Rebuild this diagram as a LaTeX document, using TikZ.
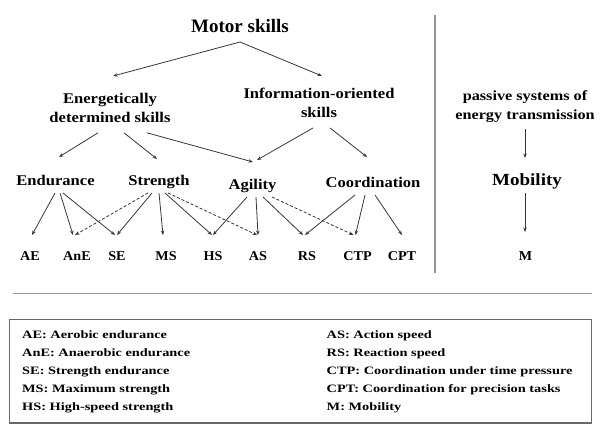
\documentclass[tikz,border=0pt]{standalone}
\usepackage{fontspec}
\setmainfont{Liberation Serif}
\newfontfamily\fmid{Liberation Serif}[FakeStretch=1.12]
\newfontfamily\flab{Liberation Serif}[FakeStretch=1.05]
\newfontfamily\fleg{Liberation Serif}[FakeStretch=1.27]
\newfontfamily\fpas{Liberation Serif}[FakeStretch=1.16]
\usetikzlibrary{arrows.meta,calc}
\definecolor{arrcol}{RGB}{55,55,55}
\definecolor{rulecol}{RGB}{150,150,150}
\definecolor{boxcol}{RGB}{105,105,105}
\tikzset{
  txt/.style={inner sep=0pt, text=black},
  topnode/.style={txt, anchor=base, font=\bfseries\fontsize{19}{22}\selectfont},
  midnode/.style={txt, anchor=base, font=\fmid\bfseries\fontsize{14.8}{19}\selectfont},
  twoline/.style={txt, anchor=north, align=center, font=\fmid\bfseries\fontsize{14.8}{19}\selectfont},
  pasnode/.style={txt, anchor=north, align=center, font=\fpas\bfseries\fontsize{14}{19}\selectfont},
  mobnode/.style={txt, anchor=base, font=\fmid\bfseries\fontsize{17}{20}\selectfont},
  labnode/.style={txt, anchor=base, font=\flab\bfseries\fontsize{13.5}{15}\selectfont},
  legnode/.style={txt, anchor=north west, align=left, font=\fleg\bfseries\fontsize{11.3}{18}\selectfont},
  arr/.style={draw=arrcol, line width=0.8pt, -{Stealth[length=4.5pt,width=3.5pt]}},
  darr/.style={arr, dash pattern=on 3pt off 2pt},
  rulebar/.style={draw=rulecol, line width=1.6pt},
  legbox/.style={draw=boxcol, line width=1.3pt}
}
\begin{document}
\begin{tikzpicture}[x=1pt,y=-1pt]
\useasboundingbox (0,0) rectangle (600,432);
% nodes
\node[topnode] (motor) at (240,32.5) {Motor skills};
\node[twoline] (ener) at (110,93) {Energetically\\determined skills};
\node[twoline] (info) at (319,88) {Information-oriented\\skills};
\node[midnode] (endu) at (55.5,185) {Endurance};
\node[midnode] (stre) at (159,185) {Strength};
\node[midnode] (agil) at (252.5,189) {Agility};
\node[midnode] (coor) at (373,187.5) {Coordination};
\node[labnode] (ae)  at (30,260) {AE};
\node[labnode] (ane) at (77,260) {AnE};
\node[labnode] (se)  at (117,260) {SE};
\node[labnode] (ms)  at (166,260) {MS};
\node[labnode] (hs)  at (213,260) {HS};
\node[labnode] (as)  at (258,260) {AS};
\node[labnode] (rs)  at (307,260) {RS};
\node[labnode] (ctp) at (357.5,260) {CTP};
\node[labnode] (cpt) at (402,260) {CPT};
\node[pasnode] (pas) at (525,90) {passive systems of\\energy transmission};
\node[mobnode] (mob) at (527,185.5) {Mobility};
\node[labnode] (m) at (525.5,260) {M};
% top level
\draw[arr] ($(motor.base)+(0,9.5)$) -- ($(ener.north)+(3,-17)$);
\draw[arr] ($(motor.base)+(0,9.5)$) -- ($(info.north)+(3,-12)$);
% second level
\draw[arr] ($(ener.south)+(-12,10)$) -- ($(endu.base)+(3.5,-28)$);
\draw[arr] ($(ener.south)+(14,10)$) -- ($(stre.base)+(-2,-26)$);
\draw[arr] ($(ener.south)+(37,10)$) -- ($(agil.base)+(0.5,-27)$);
\draw[arr] ($(info.south)+(-6,10)$) -- ($(agil.base)+(4.5,-29)$);
\draw[arr] ($(info.south)+(11,10)$) -- ($(coor.base)+(-6,-30.5)$);
% endurance
\draw[arr] ($(endu.base)+(-0.5,8)$) -- ($(ae.base)+(2,-25)$);
\draw[arr] ($(endu.base)+(4.5,8)$) -- ($(ane.base)+(-4,-25)$);
\draw[arr] ($(endu.base)+(7.5,8)$) -- ($(se.base)+(-2,-25)$);
% strength
\draw[darr] ($(stre.base)+(-11,8)$) -- ($(ane.base)+(-2,-25)$);
\draw[arr] ($(stre.base)+(-7,8)$) -- ($(se.base)+(0,-25)$);
\draw[arr] ($(stre.base)+(0,8)$) -- ($(ms.base)+(-3,-25)$);
\draw[arr] ($(stre.base)+(6,8)$) -- ($(hs.base)+(-1,-25)$);
\draw[darr] ($(stre.base)+(9,8)$) -- ($(as.base)+(-1,-25)$);
% agility
\draw[arr] ($(agil.base)+(-5.5,8)$) -- ($(hs.base)+(0,-25)$);
\draw[arr] ($(agil.base)+(3.5,8)$) -- ($(as.base)+(0,-25)$);
\draw[arr] ($(agil.base)+(10.5,8)$) -- ($(rs.base)+(-4,-25)$);
\draw[darr] ($(agil.base)+(19.5,8)$) -- ($(ctp.base)+(-4,-25)$);
% coordination
\draw[arr] ($(coor.base)+(-18,7.5)$) -- ($(rs.base)+(-2,-25)$);
\draw[arr] ($(coor.base)+(-8,7.5)$) -- ($(ctp.base)+(-2,-25)$);
\draw[arr] ($(coor.base)+(2,7.5)$) -- ($(cpt.base)+(0,-25)$);
% right part
\draw[arr] ($(pas.south)+(0,7)$) -- ($(mob.base)+(-2,-27.5)$);
\draw[arr] ($(mob.base)+(-2,7.5)$) -- ($(m.base)+(-0.5,-28)$);
% rules
\draw[rulebar] (435,15) -- (435,273);
\draw[rulebar] (12.5,293.5) -- (591.5,293.5);
% legend
\draw[legbox] (9.5,319.5) rectangle (591.5,423);
\node[legnode] (legl) at (22,330.3) {AE: Aerobic endurance\\AnE: Anaerobic endurance\\SE: Strength endurance\\MS: Maximum strength\\HS: High-speed strength};
\node[legnode] (legr) at (326.5,330.3) {AS: Action speed\\RS: Reaction speed\\CTP: Coordination under time pressure\\CPT: Coordination for precision tasks\\M: Mobility};
\end{tikzpicture}
\end{document}
